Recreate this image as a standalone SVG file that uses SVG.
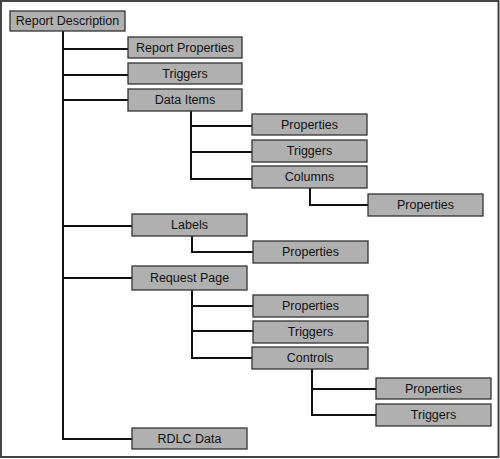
<svg xmlns="http://www.w3.org/2000/svg" width="500" height="459" viewBox="0 0 500 459">
<style>
.n rect{fill:#b0b0b0;stroke:#333;stroke-width:1.3}
.n text{font-family:"Liberation Sans",Arial,sans-serif;font-size:12.5px;fill:#111;text-anchor:middle;dominant-baseline:central}
.c path{fill:none;stroke:#111;stroke-width:2}
</style>
<rect x="1" y="1" width="497.5" height="456" fill="#fff" stroke="#444" stroke-width="2"/>
<g class="c">
<path d="M63 31V439H132M63 49H128M63 75H128M63 100H128M63 226H132M63 278H132"/>
<path d="M191 111V179H252M191 126H252M191 152H252"/>
<path d="M310 188V205H368"/>
<path d="M192 236V252H253"/>
<path d="M192 290V358H252M192 306H253M192 331H253"/>
<path d="M312 369V415H376M312 389H376"/>
</g>
<g id="report-description" class="n"><rect x="10" y="11" width="115" height="20"/><text x="67.5" y="21">Report Description</text></g>
<g id="report-properties" class="n"><rect x="128" y="37" width="114" height="21"/><text x="185" y="47.5">Report Properties</text></g>
<g id="triggers" class="n"><rect x="128" y="63" width="114" height="21"/><text x="185" y="73.5">Triggers</text></g>
<g id="data-items" class="n"><rect x="128" y="89" width="114" height="22"/><text x="185" y="100">Data Items</text></g>
<g id="di-properties" class="n"><rect x="252" y="114" width="115" height="21"/><text x="309.5" y="124.5">Properties</text></g>
<g id="di-triggers" class="n"><rect x="252" y="140" width="115" height="22"/><text x="309.5" y="151">Triggers</text></g>
<g id="columns" class="n"><rect x="252" y="166" width="115" height="22"/><text x="309.5" y="177">Columns</text></g>
<g id="col-properties" class="n"><rect x="368" y="194" width="115" height="22"/><text x="425.5" y="205">Properties</text></g>
<g id="labels" class="n"><rect x="132" y="214" width="115" height="22"/><text x="189.5" y="225">Labels</text></g>
<g id="labels-properties" class="n"><rect x="253" y="241" width="115" height="22"/><text x="310.5" y="252">Properties</text></g>
<g id="request-page" class="n"><rect x="132" y="266" width="115" height="24"/><text x="189.5" y="278">Request Page</text></g>
<g id="rp-properties" class="n"><rect x="253" y="295" width="115" height="22"/><text x="310.5" y="306">Properties</text></g>
<g id="rp-triggers" class="n"><rect x="253" y="321" width="115" height="22"/><text x="310.5" y="332">Triggers</text></g>
<g id="controls" class="n"><rect x="252" y="347" width="116" height="22"/><text x="310" y="358">Controls</text></g>
<g id="ctl-properties" class="n"><rect x="376" y="378" width="115" height="21"/><text x="433.5" y="388.5">Properties</text></g>
<g id="ctl-triggers" class="n"><rect x="376" y="404" width="115" height="22"/><text x="433.5" y="415">Triggers</text></g>
<g id="rdlc-data" class="n"><rect x="132" y="428" width="115" height="21"/><text x="189.5" y="438.5">RDLC Data</text></g>
</svg>
